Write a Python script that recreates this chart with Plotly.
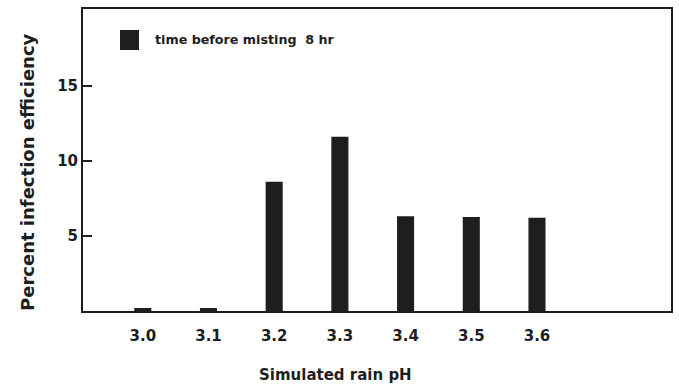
import plotly.graph_objects as go

ph_values = [3.0, 3.1, 3.2, 3.3, 3.4, 3.5, 3.6]
tick_labels = ["3.0", "3.1", "3.2", "3.3", "3.4", "3.5", "3.6"]
efficiency = [0.2, 0.2, 8.6, 11.6, 6.3, 6.25, 6.2]
series_name = "time before misting  8 hr"
x_title = "Simulated rain pH"
y_title = "Percent infection efficiency"

ink = "#1e1e1e"
font_family = "DejaVu Sans, Verdana, sans-serif"

L, R, T, B = 83, 8, 9, 76
W, H = 679, 387
pw, ph = W - L - R, H - T - B

fig = go.Figure()
fig.add_trace(go.Bar(
    x=ph_values, y=efficiency, name=series_name,
    width=0.026, marker=dict(color=ink, line=dict(width=0)),
    showlegend=False,
))

fig.update_layout(
    width=W, height=H,
    margin=dict(l=L, r=R, t=T, b=B),
    paper_bgcolor="white", plot_bgcolor="white",
    font=dict(family=font_family, color=ink, size=13, weight="bold"),
    xaxis=dict(
        range=[2.909, 3.804], tickvals=ph_values, ticktext=tick_labels,
        showgrid=False, zeroline=False, showline=True, linecolor=ink, linewidth=2,
        mirror=True, ticks="outside", ticklen=10, tickcolor="rgba(0,0,0,0)",
        tickfont=dict(size=15, weight="bold"), automargin=False,
    ),
    yaxis=dict(
        range=[0, 20.1], tickvals=[5, 10, 15],
        showgrid=False, zeroline=False, showline=True, linecolor=ink, linewidth=2,
        mirror=True, ticks="inside", ticklen=9, tickwidth=2, tickcolor=ink,
        tickfont=dict(size=15, weight="bold"), automargin=False,
    ),
)

# axis titles
fig.add_annotation(xref="paper", yref="paper", x=(335 - L) / pw, y=-(375 - (T + ph)) / ph,
                   text=x_title, showarrow=False, xanchor="center", yanchor="middle",
                   font=dict(size=15, weight="bold"))
fig.add_annotation(xref="paper", yref="paper", x=-(L - 27) / pw, y=(T + ph - 172) / ph,
                   text=y_title, showarrow=False, textangle=-90,
                   xanchor="center", yanchor="middle",
                   font=dict(size=18, weight="bold"))

# legend key
fig.add_shape(type="rect", xref="paper", yref="paper",
              x0=(120 - L) / pw, x1=(139 - L) / pw,
              y0=(T + ph - 50) / ph, y1=(T + ph - 30) / ph,
              fillcolor=ink, line=dict(width=0))
fig.add_annotation(xref="paper", yref="paper", x=(153 - L) / pw, y=(T + ph - 40) / ph,
                   text=series_name, showarrow=False, xanchor="left", yanchor="middle",
                   font=dict(size=12.7, weight="bold"))

fig.write_html("out.html", config={"displayModeBar": False},
               post_script="document.body.style.margin='0';document.body.style.overflow='hidden';")
